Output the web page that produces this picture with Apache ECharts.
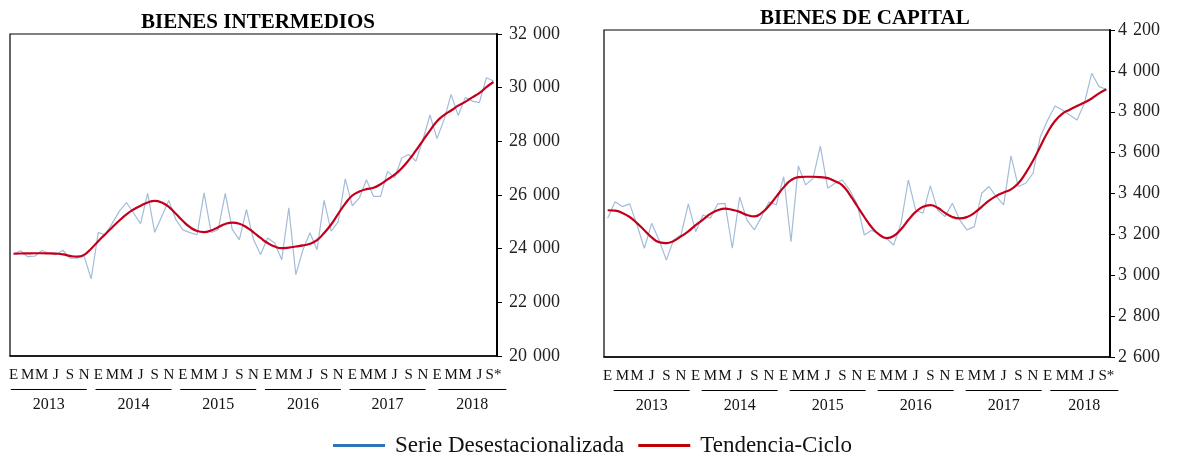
<!DOCTYPE html>
<html lang="es" style="height: 100%">

<head>
  <meta charset="utf-8">
  <title>Bienes intermedios y de capital</title>
  <script src="https://cdn.jsdelivr.net/npm/echarts@6/dist/echarts.min.js"></script>
</head>

<body style="height: 100%; margin: 0; background: #fff">
  <div id="chart" style="width: 1177px; height: 457px"></div>
  <script type="text/javascript">
    // años y meses (E=enero ... S* = septiembre 2018, último dato)
    const years = ['2013', '2014', '2015', '2016', '2017', '2018'];
    const monthLetters = ['E', 'F', 'M', 'A', 'M', 'J', 'J', 'A', 'S', 'O', 'N', 'D'];
    const lastMonth2018 = 9;

    // Bienes intermedios
    const interSerie = [
      23800, 23920, 23700, 23720, 23930, 23820, 23780, 23940, 23650, 23650, 23720, 22880,
      24600, 24520, 24950, 25400, 25720, 25330, 24930, 26060, 24610, 25200, 25800, 25080,
      24700, 24600, 24520, 26080, 24600, 24710, 26060, 24710, 24340, 25460, 24340, 23780,
      24400, 24210, 23590, 25520, 23030, 23960, 24590, 23960, 25800, 24650, 25000, 26600,
      25600, 25890, 26570, 25950, 25950, 26880, 26640, 27380, 27510, 27260, 28050, 28980,
      28100, 28810, 29750, 28960, 29630, 29500, 29440, 30370, 30250
    ];
    const interTend = [
      23810, 23820, 23825, 23830, 23830, 23825, 23815, 23790, 23730, 23700, 23770, 24000,
      24280, 24540, 24800, 25050, 25280, 25460, 25600, 25720, 25780, 25720, 25560, 25300,
      25030, 24800, 24660, 24620, 24680, 24800, 24920, 24970, 24930, 24800, 24610, 24400,
      24210, 24080, 24020, 24040, 24080, 24120, 24180, 24320, 24580, 24900, 25300, 25680,
      25980, 26130, 26220, 26270, 26400, 26580, 26760, 27000, 27300, 27650, 28030, 28400,
      28750, 28980, 29150, 29330, 29470, 29640, 29800, 30020, 30210
    ];

    // Bienes de capital
    const capSerie = [
      3279, 3360, 3336, 3349, 3246, 3132, 3254, 3173, 3075, 3173, 3197, 3349,
      3213, 3295, 3279, 3349, 3352, 3132, 3382, 3270, 3222, 3287, 3360, 3344,
      3482, 3164, 3535, 3442, 3474, 3632, 3426, 3450, 3466, 3417, 3350, 3197,
      3220, 3200, 3181, 3148, 3254, 3466, 3319, 3303, 3437, 3319, 3287, 3352,
      3271, 3222, 3238, 3401, 3434, 3385, 3344, 3584, 3434, 3450, 3499, 3678,
      3760, 3828, 3809, 3784, 3760, 3841, 3988, 3923, 3910
    ];
    const capTend = [
      3318, 3316, 3305, 3285, 3255, 3220, 3185, 3162, 3157, 3168, 3190, 3215,
      3245, 3272, 3300, 3318, 3326, 3320, 3310, 3295, 3288, 3305, 3340, 3385,
      3430, 3465, 3480, 3482, 3482, 3480, 3475, 3460, 3440, 3395, 3340, 3285,
      3235, 3200, 3182, 3192, 3225, 3270, 3310, 3335, 3343, 3330, 3305, 3285,
      3278, 3285, 3305, 3335, 3365, 3388, 3405, 3420, 3450, 3500, 3560, 3630,
      3700, 3755, 3790, 3810, 3828, 3845, 3865, 3890, 3910
    ];

    const categories = [];
    years.forEach((y, i) => {
      const n = i === years.length - 1 ? lastMonth2018 : 12;
      for (let m = 0; m < n; m++) categories.push(y + '-' + (m + 1));
    });
    const lastIdx = categories.length - 1;

    const serif = 'Liberation Serif';
    // separador de miles con espacio
    const fmt = v => String(v).replace(/\B(?=(\d{3})+(?!\d))/g, '\u2004');

    function monthAxis(gridIndex) {
      return {
        type: 'category',
        gridIndex: gridIndex,
        data: categories,
        boundaryGap: true,
        axisLine: { show: true, lineStyle: { color: '#000', width: 1.5 } },
        axisTick: { show: false },
        axisLabel: {
          interval: (idx) => idx % 2 === 0,
          margin: 12,
          fontFamily: serif,
          fontSize: 15,
          color: '#111',
          formatter: (val, idx) => {
            if (idx === lastIdx) return 'S*';
            return monthLetters[parseInt(val.split('-')[1]) - 1];
          }
        },
        splitLine: { show: false }
      };
    }

    // eje auxiliar para los años con su raya
    function yearAxis(gridIndex, centre) {
      return {
        type: 'category',
        gridIndex: gridIndex,
        data: categories,
        boundaryGap: true,
        position: 'bottom',
        axisLine: { show: false },
        axisTick: { show: false },
        axisLabel: {
          interval: (idx) => idx % 12 === centre || idx === 65,
          margin: 33,
          formatter: (val, idx) => {
            const y = val.split('-')[0];
            const u = y === '2018' ? 'v' : 'u';
            return '{' + u + '| }\n{y|' + y + '}';
          },
          rich: {
            u: { width: 76, height: 1, lineHeight: 1, backgroundColor: '#000' },
            v: { width: 68, height: 1, lineHeight: 1, backgroundColor: '#000' },
            y: { fontFamily: serif, fontSize: 16, lineHeight: 30, color: '#111' }
          }
        },
        splitLine: { show: false }
      };
    }

    function valueAxis(gridIndex, min, max, interval, margin) {
      return {
        type: 'value',
        gridIndex: gridIndex,
        position: 'right',
        min: min,
        max: max,
        interval: interval,
        axisLine: { show: true, lineStyle: { color: '#000', width: 2 } },
        axisTick: { show: true, length: 5, lineStyle: { color: '#000' } },
        axisLabel: { margin: margin, fontFamily: serif, fontSize: 18, color: '#222', formatter: fmt },
        splitLine: { show: false }
      };
    }

    const blue = '#a3bcd9';
    const red = '#c3001c';

    function lineSeries(name, data, idx, isTrend) {
      return {
        name: name,
        type: 'line',
        xAxisIndex: idx,
        yAxisIndex: idx,
        data: data,
        showSymbol: false,
        smooth: isTrend ? 0.5 : false,
        z: isTrend ? 3 : 2,
        itemStyle: { color: isTrend ? red : '#2e75b6' },
        lineStyle: { color: isTrend ? red : blue, width: isTrend ? 2.2 : 1.2 }
      };
    }

    const chart = echarts.init(document.getElementById('chart'));
    const option = {
      animation: false,
      backgroundColor: '#fff',
      title: [
        {
          text: 'BIENES INTERMEDIOS', left: 136, top: 7,
          textStyle: { fontFamily: serif, fontSize: 21, fontWeight: 'bold', color: '#000' }
        },
        {
          text: 'BIENES DE CAPITAL', left: 755, top: 3,
          textStyle: { fontFamily: serif, fontSize: 21, fontWeight: 'bold', color: '#000' }
        }
      ],
      legend: {
        left: 328,
        top: 429,
        icon: 'rect',
        itemWidth: 52,
        itemHeight: 3,
        itemGap: 14,
        textStyle: { fontFamily: serif, fontSize: 23, color: '#111', padding: [0, 0, 0, 5] },
        data: [
          { name: 'Serie Desestacionalizada', itemStyle: { color: '#2e75b6' } },
          { name: 'Tendencia-Ciclo', itemStyle: { color: '#c00000' } }
        ]
      },
      grid: [
        { left: 10, right: 680, top: 34, bottom: 101, show: true, borderColor: '#000', borderWidth: 1.2 },
        { left: 604, right: 67, top: 30, bottom: 100, show: true, borderColor: '#000', borderWidth: 1.2 }
      ],
      xAxis: [monthAxis(0), monthAxis(1), yearAxis(0, 5), yearAxis(1, 6)],
      yAxis: [valueAxis(0, 20000, 32000, 2000, 12), valueAxis(1, 2600, 4200, 200, 8)],
      series: [
        lineSeries('Serie Desestacionalizada', interSerie, 0, false),
        lineSeries('Tendencia-Ciclo', interTend, 0, true),
        lineSeries('Serie Desestacionalizada', capSerie, 1, false),
        lineSeries('Tendencia-Ciclo', capTend, 1, true)
      ]
    };
    chart.setOption(option);
  </script>
</body>

</html>
